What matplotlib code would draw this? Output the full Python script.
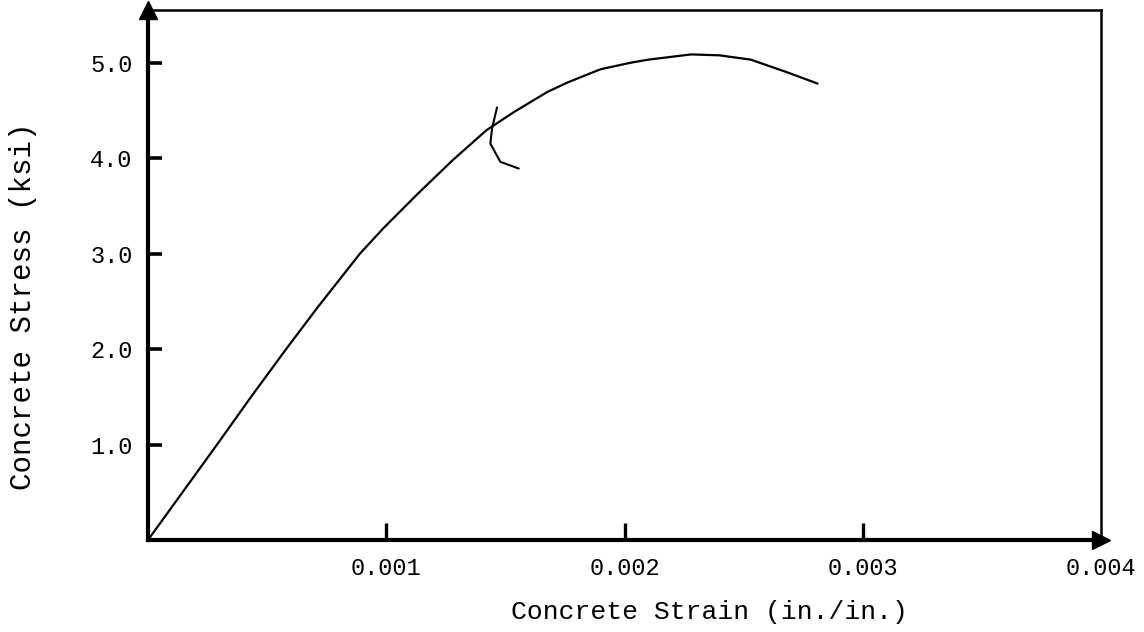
import matplotlib
matplotlib.use("Agg")
import matplotlib.pyplot as plt

# stress-strain curve
strain = [0, 0.00029, 0.00043, 0.00058, 0.00071, 0.00089, 0.00099, 0.00113,
          0.00128, 0.00142, 0.001535, 0.001675, 0.00176, 0.0019, 0.00203,
          0.0021, 0.00228, 0.0024, 0.00253, 0.00268, 0.00281]
stress = [0, 1.0, 1.49, 2.0, 2.43, 3.0, 3.27, 3.62,
          3.98, 4.29, 4.48, 4.69, 4.79, 4.93, 5.0,
          5.03, 5.085, 5.075, 5.03, 4.90, 4.78]

# hand-drawn bracket mark crossing the curve
mark_strain = [0.001465, 0.001444, 0.001437, 0.001479, 0.001556]
mark_stress = [4.53, 4.31, 4.15, 3.96, 3.89]

x_ticks = [0.001, 0.002, 0.003, 0.004]
x_labels = ["0.001", "0.002", "0.003", "0.004"]
y_ticks = [1.0, 2.0, 3.0, 4.0, 5.0]
y_labels = ["1.0", "2.0", "3.0", "4.0", "5.0"]

W, H = 1144, 632
fig = plt.figure(figsize=(W / 100, H / 100), dpi=100)
# axes box in pixel coords: origin (148, 540), top-right (1101, 10)
ax = fig.add_axes([148 / W, (H - 540) / H, (1101 - 148) / W, (540 - 10) / H])

ax.plot(strain, stress, color="black", lw=1.6, solid_capstyle="round",
        solid_joinstyle="round")
ax.plot(mark_strain, mark_stress, color="black", lw=1.5, solid_capstyle="round",
        solid_joinstyle="round")

ax.set_xlim(0, 0.004)
ax.set_ylim(0, 5.55)

# thick axes, thinner frame on top/right
ax.spines["left"].set_linewidth(3.0)
ax.spines["bottom"].set_linewidth(3.0)
ax.spines["top"].set_linewidth(1.8)
ax.spines["right"].set_linewidth(1.8)

ax.set_xticks(x_ticks)
ax.set_xticklabels(x_labels, family="Liberation Mono", fontsize=17)
ax.set_yticks(y_ticks)
ax.set_yticklabels(y_labels, family="Liberation Mono", fontsize=17)
ax.tick_params(axis="x", direction="in", length=12, width=2.4, pad=12, top=False)
ax.tick_params(axis="y", direction="in", length=10, width=2.6, pad=11, right=False)
ax.xaxis.get_major_ticks()[-1].tick1line.set_visible(False)

# arrow heads at ends of the axes
ax.plot([0], [5.55], marker="^", markersize=13, color="black", clip_on=False)
ax.plot([0.004], [0], marker=">", markersize=13, color="black", clip_on=False)

fig.text(23 / W, 1 - 306 / H, "Concrete Stress (ksi)", rotation=90,
         ha="center", va="center", family="Liberation Mono", fontsize=21)
fig.text(709 / W, 1 - 612 / H, "Concrete Strain (in./in.)",
         ha="center", va="center", family="Liberation Mono", fontsize=19)

fig.savefig("out.png", dpi=100)
